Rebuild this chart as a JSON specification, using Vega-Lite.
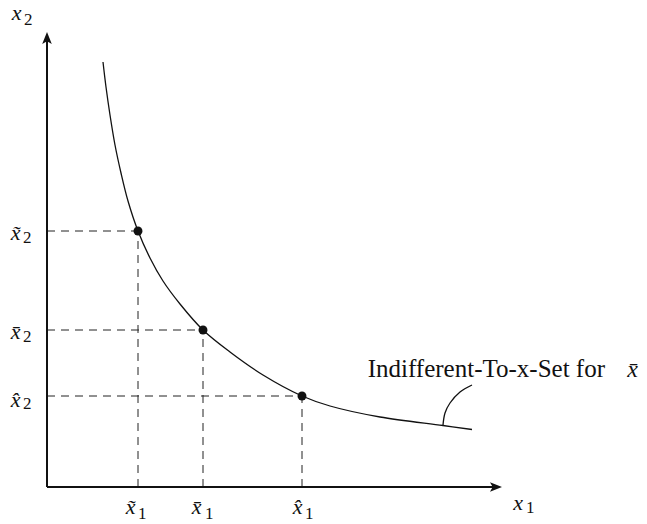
{
  "$schema": "https://vega.github.io/schema/vega-lite/v6.json",
  "width": 647,
  "height": 524,
  "autosize": "none",
  "padding": 0,
  "background": "white",
  "config": {"view": {"stroke": null}},
  "datasets": {
    "curve": [
      {"x": 56, "y": 425}, {"x": 59, "y": 400}, {"x": 63, "y": 372}, {"x": 68, "y": 342},
      {"x": 74, "y": 314}, {"x": 81, "y": 286}, {"x": 91, "y": 256}, {"x": 103, "y": 229},
      {"x": 116, "y": 206}, {"x": 133, "y": 183}, {"x": 156, "y": 157}, {"x": 183, "y": 135},
      {"x": 216, "y": 112}, {"x": 255, "y": 91}, {"x": 283, "y": 81}, {"x": 333, "y": 70},
      {"x": 396, "y": 61.5}, {"x": 425, "y": 57.5}
    ],
    "pts": [
      {"x": 91, "y": 256}, {"x": 156, "y": 157}, {"x": 255, "y": 91}
    ],
    "leader": [
      {"x": 396, "y": 62}, {"x": 398, "y": 74}, {"x": 403, "y": 84}, {"x": 413, "y": 95}, {"x": 425, "y": 102}
    ],
    "axes": [
      {"x": 0, "y": 0, "x2": 449, "y2": 0},
      {"x": 0, "y": 0, "x2": 0, "y2": 449}
    ],
    "arrows": [
      {"x": 449, "y": 0, "dir": "right"},
      {"x": 0, "y": 449, "dir": "up"}
    ],
    "mainLabels": [
      {"x": -30.5, "y": 467, "text": "x"},
      {"x": -31.5, "y": 247, "text": "x̃"},
      {"x": -31.5, "y": 148, "text": "x̄"},
      {"x": -31.5, "y": 80, "text": "x̂"},
      {"x": 471, "y": -23, "text": "x"},
      {"x": 83.5, "y": -27, "text": "x̃"},
      {"x": 149.5, "y": -27, "text": "x̄"},
      {"x": 250.5, "y": -27, "text": "x̂"}
    ],
    "subLabels": [
      {"x": -23, "y": 462, "text": "2"},
      {"x": -24, "y": 244, "text": "2"},
      {"x": -24, "y": 145, "text": "2"},
      {"x": -24, "y": 78, "text": "2"},
      {"x": 479, "y": -26, "text": "1"},
      {"x": 91, "y": -32, "text": "1"},
      {"x": 158, "y": -32, "text": "1"},
      {"x": 258, "y": -32, "text": "1"}
    ],
    "caption": [
      {"x": 558, "y": 110, "text": "Indifferent-To-x-Set for"}
    ],
    "captionMath": [
      {"x": 585.5, "y": 110, "text": "x̄"}
    ]
  },
  "encoding": {
    "x": {"field": "x", "type": "quantitative", "scale": {"domain": [-47, 600], "nice": false, "zero": false}, "axis": null},
    "y": {"field": "y", "type": "quantitative", "scale": {"domain": [-37, 487], "nice": false, "zero": false}, "axis": null}
  },
  "layer": [
    {
      "data": {"name": "pts"},
      "mark": {"type": "rule", "strokeDash": [8, 6], "strokeWidth": 1, "color": "#222"},
      "encoding": {"x": {"datum": 0}, "x2": {"field": "x"}}
    },
    {
      "data": {"name": "pts"},
      "mark": {"type": "rule", "strokeDash": [8, 6], "strokeWidth": 1, "color": "#222"},
      "encoding": {"y": {"datum": 0}, "y2": {"field": "y"}}
    },
    {
      "data": {"name": "axes"},
      "mark": {"type": "rule", "strokeWidth": 2, "color": "#111"},
      "encoding": {"x2": {"field": "x2"}, "y2": {"field": "y2"}}
    },
    {
      "data": {"name": "arrows"},
      "mark": {"type": "point", "filled": true, "opacity": 1, "color": "#111", "size": 144},
      "encoding": {
        "shape": {
          "field": "dir", "type": "nominal", "legend": null,
          "scale": {"domain": ["right", "up"], "range": ["M1,0L-1,-0.8L-0.55,0L-1,0.8Z", "M0,-1L0.8,1L0,0.55L-0.8,1Z"]}
        }
      }
    },
    {
      "data": {"name": "curve"},
      "mark": {"type": "line", "interpolate": "catmull-rom", "strokeWidth": 1.3, "color": "#111"},
      "encoding": {}
    },
    {
      "data": {"name": "leader"},
      "mark": {"type": "line", "interpolate": "catmull-rom", "strokeWidth": 1.3, "color": "#111"},
      "encoding": {}
    },
    {
      "data": {"name": "pts"},
      "mark": {"type": "circle", "size": 80, "opacity": 1, "color": "#111"}
    },
    {
      "data": {"name": "mainLabels"},
      "mark": {"type": "text", "font": "Liberation Serif, serif", "fontStyle": "italic", "fontSize": 22, "align": "center", "baseline": "alphabetic", "color": "#111"},
      "encoding": {"text": {"field": "text"}}
    },
    {
      "data": {"name": "subLabels"},
      "mark": {"type": "text", "font": "Liberation Serif, serif", "fontSize": 17, "align": "left", "baseline": "alphabetic", "color": "#111"},
      "encoding": {"text": {"field": "text"}}
    },
    {
      "data": {"name": "caption"},
      "mark": {"type": "text", "font": "Liberation Serif, serif", "fontSize": 25, "align": "right", "baseline": "alphabetic", "color": "#111"},
      "encoding": {"text": {"field": "text"}}
    },
    {
      "data": {"name": "captionMath"},
      "mark": {"type": "text", "font": "Liberation Serif, serif", "fontStyle": "italic", "fontSize": 24, "align": "center", "baseline": "alphabetic", "color": "#111"},
      "encoding": {"text": {"field": "text"}}
    }
  ]
}
